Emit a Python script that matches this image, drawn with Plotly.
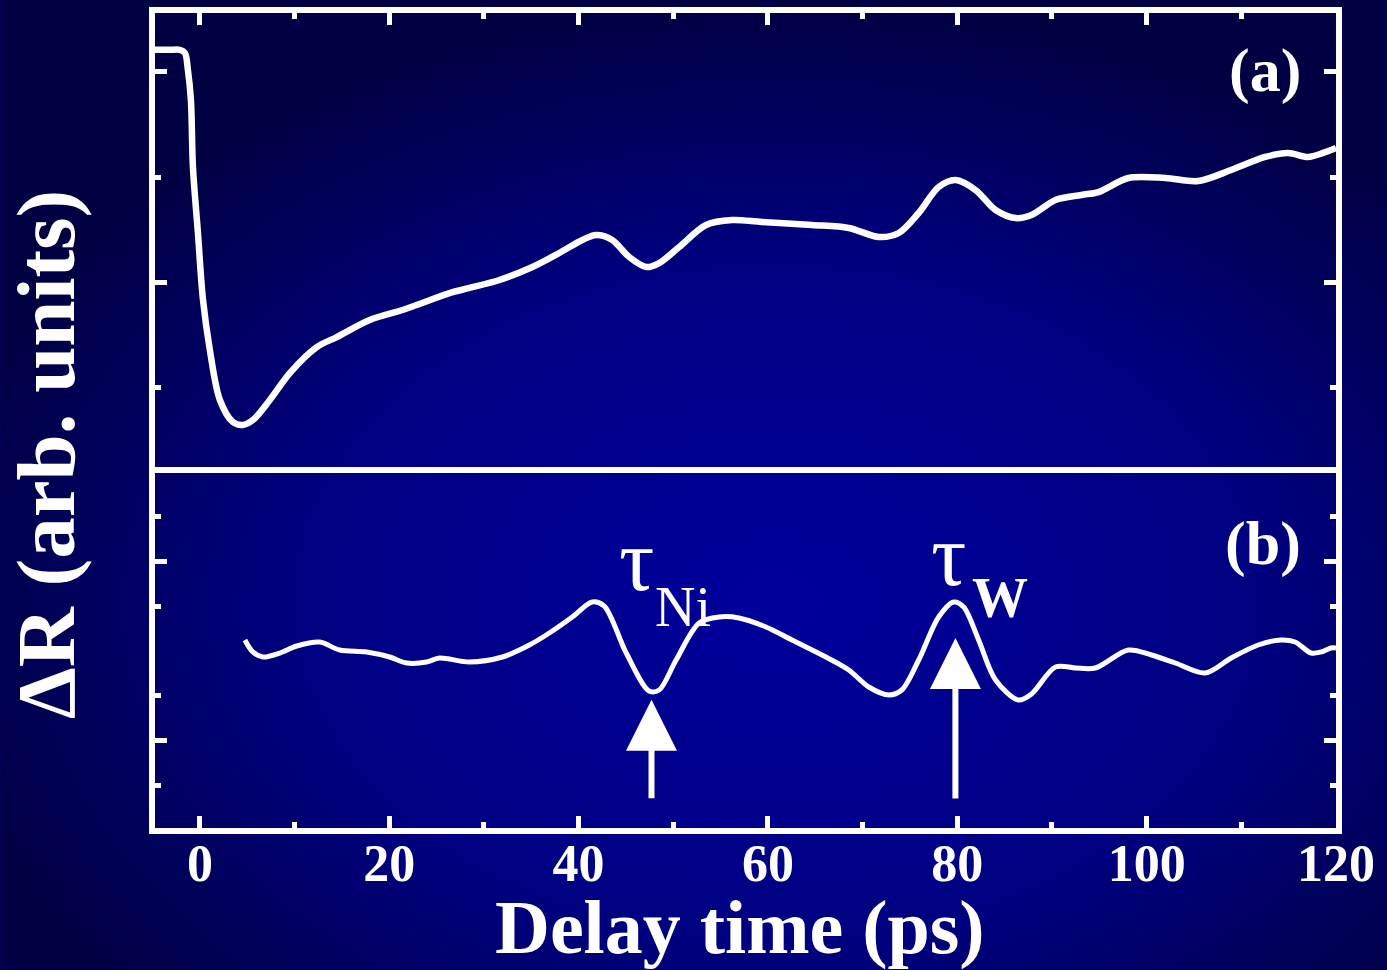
import base64
import plotly.graph_objects as go

# ---------------- data ----------------
# panel (a): reflectivity change vs delay time
t_a = [-5.0, -3.16, -2.11, -1.58, -1.27, -0.95, -0.74, -0.21, 0.32, 1.05, 2.11, 3.48,
       4.53, 5.59, 7.38, 9.49, 12.34, 14.45, 17.93, 21.41, 22.88, 26.36, 28.47, 31.64,
       35.12, 37.96, 40.39, 41.86, 43.55, 45.34, 47.14, 48.51, 50.62, 53.46, 56.21,
       59.37, 64.64, 68.54, 71.71, 73.82, 75.92, 78.03, 79.83, 81.93, 84.04, 86.15,
       87.84, 90.37, 93.11, 94.91, 98.07, 101.97, 105.45, 108.93, 112.52, 114.94,
       117.05, 118.63, 120.0]
r_a = [4.21, 4.21, 4.21, 4.18, 4.02, 3.73, 3.10, 2.47, 1.84, 1.36, 0.885, 0.676,
       0.648, 0.695, 0.885, 1.141, 1.388, 1.483, 1.645, 1.740, 1.787, 1.901, 1.949, 2.025,
       2.148, 2.281, 2.405, 2.452, 2.405, 2.243, 2.148, 2.186, 2.338, 2.547, 2.594,
       2.575, 2.547, 2.519, 2.433, 2.471, 2.661, 2.908, 2.974, 2.879, 2.689, 2.613,
       2.642, 2.784, 2.832, 2.860, 2.993, 2.993, 2.965, 3.069, 3.193, 3.231,
       3.193, 3.231, 3.278]

# panel (b): oscillatory component
t_b = [4.75, 5.59, 6.64, 8.44, 10.23, 12.65, 14.76, 17.61, 20.04, 21.83, 23.94, 25.31,
       28.47, 31.95, 34.80, 36.91, 39.33, 41.44, 42.71, 45.03, 47.45, 48.51, 50.30,
       52.73, 54.84, 56.94, 59.79, 62.53, 66.12, 68.54, 70.65, 72.76, 74.13, 75.92,
       78.03, 79.62, 80.67, 82.25, 84.04, 86.47, 87.84, 90.37, 92.48, 94.59, 98.07,
       100.50, 103.03, 106.19, 108.93, 111.78, 114.20, 115.68, 117.37, 118.42, 119.47, 120.0]
r_b = [0.246, -0.022, -0.134, -0.045, 0.112, 0.201, 0.022, -0.022, -0.134, -0.268, -0.246, -0.156,
       -0.246, -0.134, 0.134, 0.402, 0.759, 1.094, 1.004, -0.045, -0.893, -0.871, -0.201,
       0.625, 0.759, 0.737, 0.536, 0.246, -0.134, -0.424, -0.804, -0.982, -0.871, -0.201,
       0.759, 1.094, 0.982, 0.246, -0.647, -1.094, -0.960, -0.357, -0.379, -0.379, 0.022,
       -0.089, -0.268, -0.491, -0.156, 0.134, 0.246, 0.201, -0.045, -0.022, 0.067, 0.067]

x_ticks = [0, 20, 40, 60, 80, 100, 120]
x_tick_text = ["0", "20", "40", "60", "80", "100", "120"]

tau_ni_ps, tau_ni_level = 47.7, -1.09
tau_w_ps, tau_w_level = 79.8, 0.29

# ---------------- styling ----------------
WHITE = "white"
FONT = "Liberation Serif"
W, H = 1387, 970
ML, MR, MT, MB = 155, 49, 13, 142
PW, PH = W - ML - MR, H - MT - MB
top_dom = [1 - (467 - MT) / PH, 1]
bot_dom = [0, 1 - (473 - MT) / PH]
x_range = [-4.745, 120.0]
ya_range = [0.249, 4.56]
yb_range = [-3.951, 3.973]

svg = ('<svg xmlns="http://www.w3.org/2000/svg" width="1387" height="970" '
       'viewBox="0 0 1387 970" preserveAspectRatio="none"><defs>'
       '<radialGradient id="g" cx="0.56" cy="0.62" r="0.62">'
       '<stop offset="0" stop-color="#00009C"/>'
       '<stop offset="0.55" stop-color="#000082"/>'
       '<stop offset="1" stop-color="#000042"/>'
       '</radialGradient></defs>'
       '<rect width="1387" height="970" fill="url(#g)"/></svg>')
bg_src = "data:image/svg+xml;base64," + base64.b64encode(svg.encode()).decode()

fig = go.Figure()
fig.add_trace(go.Scatter(x=t_a, y=r_a, mode="lines", xaxis="x", yaxis="y",
                         line=dict(color=WHITE, width=6.5, shape="spline", smoothing=0.9),
                         hoverinfo="skip", showlegend=False))
fig.add_trace(go.Scatter(x=t_b, y=r_b, mode="lines", xaxis="x2", yaxis="y2",
                         line=dict(color=WHITE, width=5, shape="spline", smoothing=0.9),
                         hoverinfo="skip", showlegend=False))

axis_common = dict(showline=True, linecolor=WHITE, linewidth=6, showgrid=False,
                   zeroline=False, ticks="inside", tickcolor=WHITE, tickwidth=5)
minor_common = dict(ticks="inside", ticklen=6, tickwidth=5, tickcolor=WHITE)

fig.update_layout(
    width=W, height=H,
    margin=dict(l=ML, r=MR, t=MT, b=MB),
    paper_bgcolor="#000060", plot_bgcolor="rgba(0,0,0,0)",
    font=dict(family=FONT, color=WHITE),
    xaxis=dict(axis_common, domain=[0, 1], anchor="y", side="top", range=x_range,
               tickvals=x_ticks, showticklabels=False, ticklen=12, matches="x2",
               minor=dict(minor_common, dtick=10, tick0=0)),
    yaxis=dict(axis_common, domain=top_dom, anchor="x", range=ya_range,
               tickvals=[2, 4], showticklabels=False, ticklen=12, mirror="ticks",
               minor=dict(minor_common, tickvals=[1, 3])),
    xaxis2=dict(axis_common, domain=[0, 1], anchor="y2", range=x_range, mirror=True,
                tickvals=x_ticks, ticktext=x_tick_text, ticklen=12,
                ticklabelstandoff=-15,
                tickfont=dict(family=FONT, size=52, color=WHITE, weight="bold"),
                minor=dict(minor_common, dtick=10, tick0=0)),
    yaxis2=dict(axis_common, domain=bot_dom, anchor="x2", range=yb_range,
                tickvals=[-2, 2], showticklabels=False, ticklen=12, mirror="ticks",
                minor=dict(minor_common, tickvals=[-3, -1, 1, 3])),
    images=[dict(source=bg_src, xref="paper", yref="paper",
                 x=-ML / PW, y=1 + MT / PH, sizex=W / PW, sizey=H / PH,
                 xanchor="left", yanchor="top", sizing="stretch", layer="below")],
)


def px_x(p):
    return (p - ML) / PW


def px_y(p):
    return 1 - (p - MT) / PH


bold = dict(family=FONT, color=WHITE, weight="bold")
reg = dict(family=FONT, color=WHITE)
ann = [
    dict(text="Delay time (ps)", x=px_x(741), y=px_y(927), font=dict(bold, size=76)),
    dict(text="ΔR (arb. units)", x=px_x(46), y=px_y(455), textangle=-90,
         font=dict(bold, size=83)),
    dict(text="(a)", x=px_x(1267), y=px_y(70), font=dict(bold, size=62)),
    dict(text="(b)", x=px_x(1265), y=px_y(543), font=dict(bold, size=62)),
    dict(text="τ", x=px_x(637), y=px_y(560), font=dict(reg, size=88)),
    dict(text="Ni", x=px_x(684), y=px_y(607), font=dict(reg, size=56)),
    dict(text="τ", x=px_x(950), y=px_y(555), font=dict(reg, size=88)),
    dict(text="W", x=px_x(1001), y=px_y(598), font=dict(bold, size=56)),
]
for a in ann:
    a.update(xref="paper", yref="paper", showarrow=False,
             xanchor="center", yanchor="middle")
ann += [
    dict(text="", x=tau_ni_ps, y=tau_ni_level, xref="x2", yref="y2", showarrow=True,
         ax=0, ay=100, arrowhead=2, arrowsize=1.7, arrowwidth=6, arrowcolor=WHITE,
         standoff=0),
    dict(text="", x=tau_w_ps, y=tau_w_level, xref="x2", yref="y2", showarrow=True,
         ax=0, ay=162, arrowhead=2, arrowsize=1.7, arrowwidth=6, arrowcolor=WHITE,
         standoff=0),
]
fig.update_layout(annotations=ann)

fig.write_html("out.html", config={"displayModeBar": False},
               post_script="document.body.style.margin='0';")
